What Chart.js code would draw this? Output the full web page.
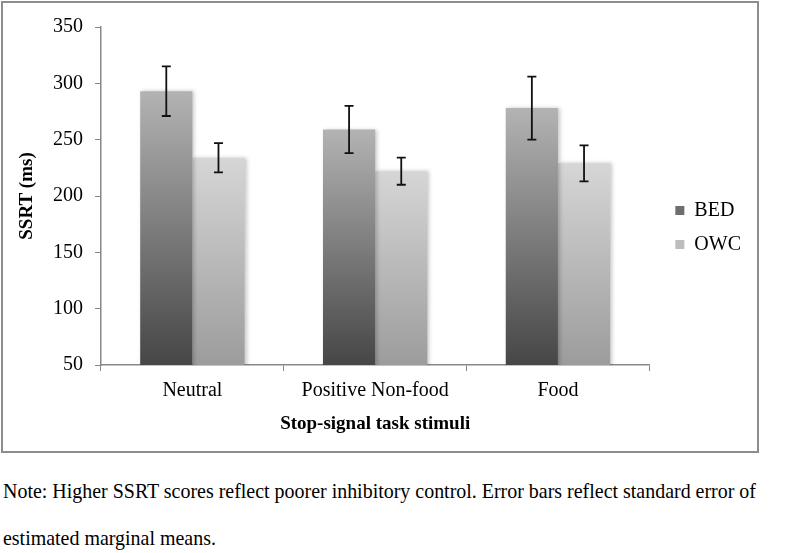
<!DOCTYPE html>
<html lang="en">
<head>
  <meta charset="UTF-8" />
  <title>SSRT by stimulus type</title>
  <script src="https://cdn.jsdelivr.net/npm/chart.js"></script>
  <style>
    body { margin: 0; background: #fff; font-family: 'Liberation Serif', 'Times New Roman', serif; }
    .frame { position: absolute; left: 1px; top: 1px; width: 758px; height: 452px;
             border: 2px solid #8d8d8d; box-sizing: border-box; }
    .note { position: absolute; left: 3px; top: 468px; font-size: 21px; line-height: 47px;
            color: #000; white-space: nowrap; transform: scaleX(0.95); transform-origin: 0 0; }
  </style>
</head>
<body>
  <div class="frame">
    <canvas id="ssrtChart" width="754" height="448"></canvas>
  </div>
  <div class="note">
    Note: Higher SSRT scores reflect poorer inhibitory control. Error bars reflect standard error of<br>
    estimated marginal means.
  </div>

  <script>
    const categories = ['Neutral', 'Positive Non-food', 'Food'];
    const bedMeans = [293, 259, 278];
    const bedErrors = [22, 21, 28];
    const owcMeans = [234, 222, 229];
    const owcErrors = [13, 12, 16];
    const yMin = 50, yMax = 350, yStep = 50;

    Chart.defaults.font.family = "'Liberation Serif', 'Times New Roman', serif";
    Chart.defaults.color = '#000';

    // vertical gradient per bar, dark at the base
    function barFill(bottomColor, topColor) {
      return ctx => {
        const chart = ctx.chart;
        if (ctx.type !== 'data' || !chart.chartArea || !chart.scales.y) return bottomColor;
        const y = chart.scales.y;
        const top = y.getPixelForValue(ctx.raw);
        const bot = y.getPixelForValue(y.min);
        const g = chart.ctx.createLinearGradient(0, bot, 0, top);
        g.addColorStop(0, bottomColor);
        g.addColorStop(1, topColor);
        return g;
      };
    }

    // soft shadow under the bars, then error bars on top
    const barExtras = {
      id: 'barExtras',
      afterLayout(chart) {
        // push legend a bit away from the plot
        chart.legend.left += 12;
        chart.legend.right += 12;
      },
      beforeDatasetsDraw(chart) {
        const ctx = chart.ctx;
        ctx.save();
        ctx.shadowColor = 'rgba(0,0,0,0.22)';
        ctx.shadowBlur = 4;
        ctx.shadowOffsetX = 2;
        ctx.shadowOffsetY = 0;
      },
      afterDatasetsDraw(chart) {
        const { ctx, scales: { y } } = chart;
        ctx.restore();
        ctx.save();
        ctx.strokeStyle = '#111';
        ctx.lineWidth = 1.8;
        chart.data.datasets.forEach((ds, i) => {
          const meta = chart.getDatasetMeta(i);
          meta.data.forEach((bar, j) => {
            const v = ds.data[j], e = ds.errors[j];
            const yt = y.getPixelForValue(v + e);
            const yb = y.getPixelForValue(v - e);
            ctx.beginPath();
            ctx.moveTo(bar.x, yt); ctx.lineTo(bar.x, yb);
            ctx.moveTo(bar.x - 4.5, yt); ctx.lineTo(bar.x + 4.5, yt);
            ctx.moveTo(bar.x - 4.5, yb); ctx.lineTo(bar.x + 4.5, yb);
            ctx.stroke();
          });
        });
        ctx.restore();
      }
    };

    new Chart(document.getElementById('ssrtChart'), {
      type: 'bar',
      data: {
        labels: categories,
        datasets: [
          { label: 'BED', data: bedMeans, errors: bedErrors,
            backgroundColor: barFill('#464646', '#b3b3b3'), legendColor: '#6e6e6e' },
          { label: 'OWC', data: owcMeans, errors: owcErrors,
            backgroundColor: barFill('#9c9c9c', '#d6d6d6'), legendColor: '#bdbdbd' }
        ]
      },
      options: {
        responsive: false,
        animation: false,
        categoryPercentage: 0.571,
        barPercentage: 1.0,
        layout: { padding: { top: 17, right: 18, bottom: 16, left: 0 } },
        plugins: {
          tooltip: { enabled: false },
          legend: {
            position: 'right',
            labels: {
              boxWidth: 9,
              boxHeight: 9,
              padding: 14,
              font: { size: 20 },
              generateLabels: chart => chart.data.datasets.map((ds, i) => ({
                text: ds.label,
                fillStyle: ds.legendColor,
                strokeStyle: ds.legendColor,
                lineWidth: 0,
                datasetIndex: i
              }))
            }
          }
        },
        scales: {
          x: {
            afterFit: s => { s.height = 70; },
            grid: { drawOnChartArea: false, tickLength: 6, color: '#888' },
            border: { color: '#888', width: 1.5 },
            ticks: { font: { size: 20 }, padding: 8 },
            title: { display: true, text: 'Stop-signal task stimuli',
                     font: { size: 19, weight: 'bold' }, padding: { top: 0, bottom: 0 } }
          },
          y: {
            min: yMin,
            max: yMax,
            afterFit: s => { s.width = 98; },
            grid: { drawOnChartArea: false, tickLength: 6, color: '#888' },
            border: { color: '#888', width: 1.5 },
            ticks: { stepSize: yStep, font: { size: 20 }, padding: 12 },
            title: { display: true, text: 'SSRT (ms)',
                     font: { size: 19, weight: 'bold' }, padding: { top: 13, bottom: 0 } }
          }
        }
      },
      plugins: [barExtras]
    });
  </script>
</body>
</html>
